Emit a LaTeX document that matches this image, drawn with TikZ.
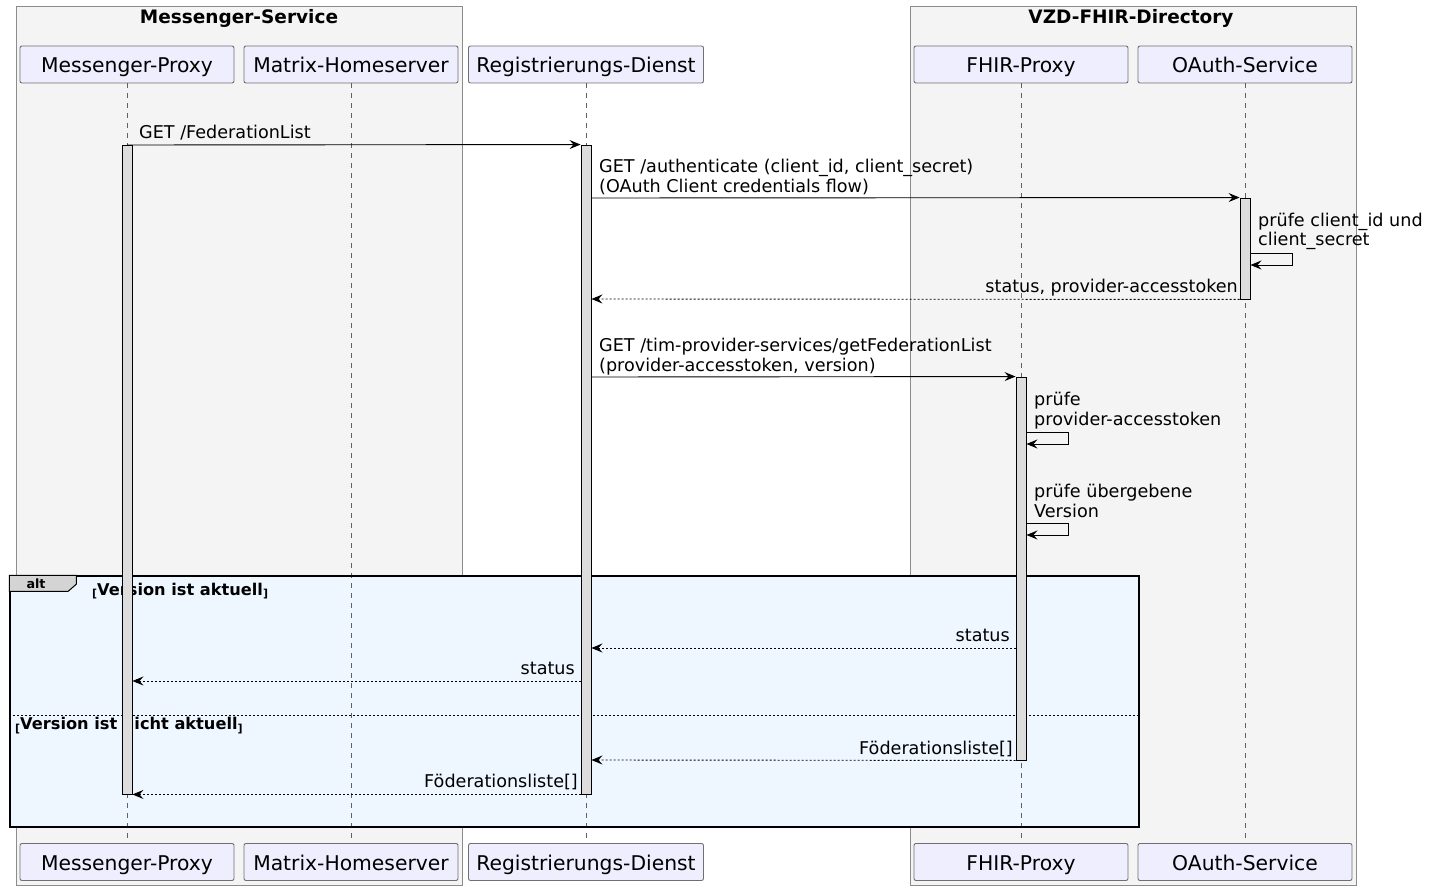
\documentclass[tikz,border=0pt]{standalone}
\usepackage{fontspec}
\setmainfont{DejaVu Sans}
\usetikzlibrary{arrows.meta}

\definecolor{partfill}{HTML}{EEEEFF}
\definecolor{partline}{HTML}{707070}
\definecolor{boxfill}{HTML}{F4F4F4}
\definecolor{boxline}{HTML}{8C8C8C}
\definecolor{altfill}{HTML}{EEF6FF}
\definecolor{tabfill}{HTML}{D4D4D4}
\definecolor{actfill}{HTML}{DDDDDD}
\definecolor{lifegray}{HTML}{606060}

\newcommand{\condbr}[1]{\raisebox{-2.5pt}{\fontsize{11}{11}\selectfont #1}}

\begin{document}
\begin{tikzpicture}[x=1pt, y=-1pt,
		participant/.style={draw=partline, fill=partfill, rounded corners=2pt, minimum height=37pt, inner sep=0pt, text height=17pt, text depth=1pt, line width=0.9pt, font=\fontsize{20.3}{22}\selectfont},
		groupbox/.style={draw=boxline, fill=boxfill, inner sep=0pt, line width=0.8pt},
		grouptitle/.style={font=\fontsize{18.5}{20}\selectfont\bfseries, inner sep=0pt, anchor=base},
		lifeline/.style={draw=lifegray, dash pattern=on 5pt off 5pt, line width=0.6pt},
		actbar/.style={draw=black, fill=actfill, minimum width=10pt, inner sep=0pt, line width=0.9pt},
		msg/.style={line width=0.9pt, -{Stealth[length=11pt, width=9pt, inset=4pt]}},
		reply/.style={msg, dash pattern=on 2pt off 2pt},
		lbl/.style={font=\fontsize{17.6}{20}\selectfont, inner sep=0pt, anchor=base west},
		rlbl/.style={lbl, anchor=base east},
		cond/.style={font=\fontsize{16.2}{18}\selectfont\bfseries, inner sep=0pt, anchor=base west}]
		\useasboundingbox (0,0) rectangle (1435,890);
		
		% groups
		\node [groupbox, minimum width=446pt, minimum height=879pt] (msBox) at (239,445.5) {};
		\node [groupbox, minimum width=446pt, minimum height=879pt] (vzdBox) at (1133,445.5) {};
		\node [grouptitle] (msTitle) at (239,23.5) {Messenger-Service};
		\node [grouptitle] (vzdTitle) at (1131,23.5) {VZD-FHIR-Directory};
		
		% participants
		\node [participant, minimum width=214pt] (mpTop) at (127,64.5) {Messenger-Proxy};
		\node [participant, minimum width=214pt] (mhTop) at (351,64.5) {Matrix-Homeserver};
		\node [participant, minimum width=235pt] (rdTop) at (586,64.5) {Registrierungs-Dienst};
		\node [participant, minimum width=214pt] (fpTop) at (1021,64.5) {FHIR-Proxy};
		\node [participant, minimum width=214pt] (osTop) at (1245,64.5) {OAuth-Service};
		\node [participant, minimum width=214pt] (mpBot) at (127,862) {Messenger-Proxy};
		\node [participant, minimum width=214pt] (mhBot) at (351,862) {Matrix-Homeserver};
		\node [participant, minimum width=235pt] (rdBot) at (586,862) {Registrierungs-Dienst};
		\node [participant, minimum width=214pt] (fpBot) at (1021,862) {FHIR-Proxy};
		\node [participant, minimum width=214pt] (osBot) at (1245,862) {OAuth-Service};
		
		% alt background
		\fill [altfill] (10,576) rectangle (1139,827);
		
		% lifelines
		\draw [lifeline] (mpTop) -- (mpBot);
		\draw [lifeline] (mhTop) -- (mhBot);
		\draw [lifeline] (rdTop) -- (rdBot);
		\draw [lifeline] (fpTop) -- (fpBot);
		\draw [lifeline] (osTop) -- (osBot);
		
		% alt frame
		\node [draw=black, line width=1.5pt, minimum width=1129pt, minimum height=251pt, inner sep=0pt] (altFrame) at (574.5,701.5) {};
		\draw [fill=tabfill, line width=1pt] (altFrame.north west) -- ++(67,0) -- ++(0,9) -- ++(-8,7) -- ++(-59,0) -- cycle;
		\node [font=\fontsize{12.7}{14}\selectfont\bfseries, inner sep=0pt, anchor=base] (altTag) at (36,588.5) {alt};
		\node [cond] (condA) at (92,595) {\condbr{[}Version ist aktuell\condbr{]}};
		\draw [dash pattern=on 2pt off 2pt, line width=0.8pt] (altFrame.west |- 0,715) -- (altFrame.east |- 0,715);
		\node [cond] (condB) at (15,729.5) {\condbr{[}Version ist nicht aktuell\condbr{]}};
		
		% activations
		\node [actbar, minimum height=649pt] (mpAct) at (127,469.5) {};
		\node [actbar, minimum height=649pt] (rdAct) at (586,469.5) {};
		\node [actbar, minimum height=101pt] (osAct) at (1245,248.5) {};
		\node [actbar, minimum height=383pt] (fpAct) at (1021,568.5) {};
		
		% messages
		\draw [msg] (mpTop |- 0,145) -- (rdAct.north west);
		\node [lbl] (getFed) at (139,138.5) {GET /FederationList};
		
		\draw [msg] (rdAct.east |- 0,198) -- (osAct.north west);
		\node [lbl] (authA) at (599,172.5) {GET /authenticate (client\_id, client\_secret)};
		\node [lbl] (authB) at (599,192.5) {(OAuth Client credentials flow)};
		
		\draw [msg] (osAct.east |- 0,253) -- ++(42,0) -- ++(0,12) -- (osAct.east |- 0,265);
		\node [lbl] (checkA) at (1258,226.5) {prüfe client\_id und};
		\node [lbl] (checkB) at (1258,245.5) {client\_secret};
		
		\draw [reply] (osAct.south west) -- (rdAct.east |- 0,299);
		\node [rlbl] (token) at (1238,293) {status, provider-accesstoken};
		
		\draw [msg] (rdAct.east |- 0,377) -- (fpAct.north west);
		\node [lbl] (getList) at (599,351.5) {GET /tim-provider-services/getFederationList};
		\node [lbl] (getListB) at (599,371.5) {(provider-accesstoken, version)};
		
		\draw [msg] (fpAct.east |- 0,432) -- ++(42,0) -- ++(0,12) -- (fpAct.east |- 0,444);
		\node [lbl] (checkTokA) at (1034,405.5) {prüfe};
		\node [lbl] (checkTokB) at (1034,425.5) {provider-accesstoken};
		
		\draw [msg] (fpAct.east |- 0,523) -- ++(42,0) -- ++(0,12) -- (fpAct.east |- 0,535);
		\node [lbl] (checkVerA) at (1034,497) {prüfe übergebene};
		\node [lbl] (checkVerB) at (1034,517) {Version};
		
		% alt: Version ist aktuell
		\draw [reply] (fpAct.west |- 0,648) -- (rdAct.east |- 0,648);
		\node [rlbl] (statusA) at (1010,641.5) {status};
		\draw [reply] (rdAct.west |- 0,681) -- (mpAct.east |- 0,681);
		\node [rlbl] (statusB) at (575,674.5) {status};
		
		% alt: Version ist nicht aktuell
		\draw [reply] (fpAct.south west) -- (rdAct.east |- 0,760);
		\node [rlbl] (listA) at (1013,754) {Föderationsliste[]};
		\draw [reply] (rdAct.south west) -- (mpAct.south east);
		\node [rlbl] (listB) at (578,787.5) {Föderationsliste[]};
		
\end{tikzpicture}
\end{document}
